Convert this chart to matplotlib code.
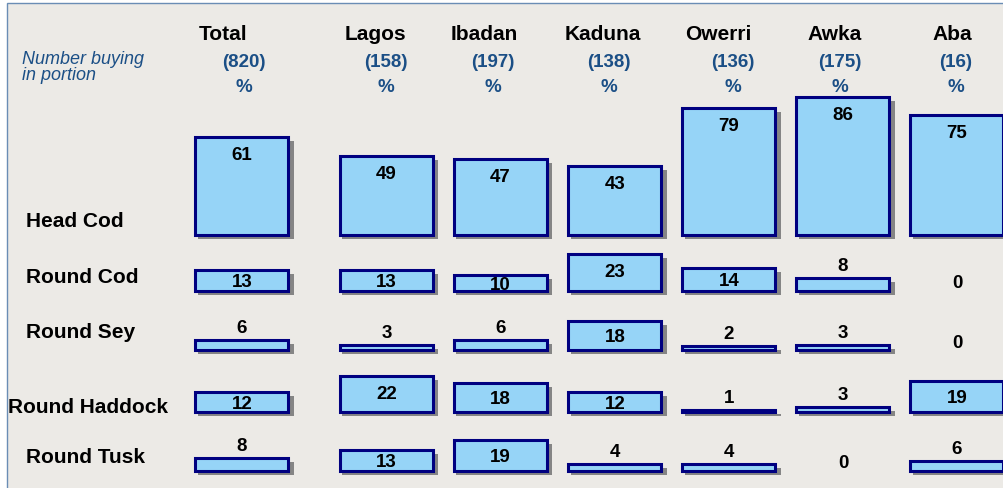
import matplotlib.pyplot as plt
import matplotlib.patches as mpatches
import numpy as np

plt.rcParams['font.family'] = ['Liberation Sans', 'DejaVu Sans']

# Data
markets = ['Total', 'Lagos', 'Ibadan', 'Kaduna', 'Owerri', 'Awka', 'Aba']
bases = ['(820)', '(158)', '(197)', '(138)', '(136)', '(175)', '(16)']
portions = ['Head Cod', 'Round Cod', 'Round Sey', 'Round Haddock', 'Round Tusk']
head_cod = [61, 49, 47, 43, 79, 86, 75]
round_cod = [13, 13, 10, 23, 14, 8, 0]
round_sey = [6, 3, 6, 18, 2, 3, 0]
round_haddock = [12, 22, 18, 12, 1, 3, 19]
round_tusk = [8, 13, 19, 4, 4, 0, 6]
values = [head_cod, round_cod, round_sey, round_haddock, round_tusk]

# Layout (pixel coordinates, y grows downward)
col_x = np.array([242, 386.5, 500.5, 615, 729, 843, 957])
head_x = [223, 375.5, 484.5, 602.5, 718, 835, 952]
base_x = [244, 386, 493, 609, 733, 840, 955.5]
row_base = [236, 292, 351, 413, 472]
label_pos = [(26, 227), (26, 283), (26, 338), (8, 413), (26, 463)]
scale = 1.6
bar_w = 93

fill = '#96D4F7'
edge = '#000080'
blue_txt = '#1B4F86'

fig = plt.figure(figsize=(10.04, 4.88), dpi=100)
ax = fig.add_axes([0, 0, 1, 1])
ax.set_xlim(0, 1004)
ax.set_ylim(488, 0)
ax.axis('off')
fig.patch.set_facecolor('white')

ax.add_patch(mpatches.Rectangle((7, 3), 1100, 600, facecolor='#ECEAE6',
                                edgecolor='#6A8DB5', linewidth=1, zorder=0))

# Header
for i, m in enumerate(markets):
    ax.text(head_x[i], 40, m, ha='center', va='baseline',
            fontsize=15, fontweight='bold', color='black')
    ax.text(base_x[i], 67, bases[i], ha='center', va='baseline',
            fontsize=13.5, fontweight='bold', color=blue_txt)
    ax.text(base_x[i], 92, '%', ha='center', va='baseline',
            fontsize=13.5, fontweight='bold', color=blue_txt)
ax.text(22, 63.5, 'Number buying', ha='left', va='baseline', fontsize=13,
        style='italic', color=blue_txt)
ax.text(22, 80.5, 'in portion', ha='left', va='baseline', fontsize=13,
        style='italic', color=blue_txt)

# Rows
for r, (name, vals) in enumerate(zip(portions, values)):
    base = row_base[r] - 1.5
    ax.text(label_pos[r][0], label_pos[r][1], name, ha='left', va='baseline',
            fontsize=15, fontweight='bold', color='black')
    vals = np.array(vals)
    h = vals * scale
    nz = vals > 0
    # shadow
    ax.bar(col_x[nz] + 4, h[nz], width=bar_w + 3, bottom=base - h[nz] + 4,
           color='#858585', edgecolor='none', zorder=2)
    ax.bar(col_x[nz], h[nz], width=bar_w, bottom=base - h[nz],
           color=fill, edgecolor=edge, linewidth=2.2, zorder=3)
    for i, v in enumerate(vals):
        top = base - v * scale
        if v >= 10:
            y = top + min(16, v * scale / 2)
        elif v > 0:
            y = top - 14
        else:
            y = base - 9
        ax.text(col_x[i], y + 2.5, str(v), ha='center', va='center',
                fontsize=13.5, fontweight='bold', color='black', zorder=4)

plt.savefig('out.png', dpi=100, facecolor='white')
